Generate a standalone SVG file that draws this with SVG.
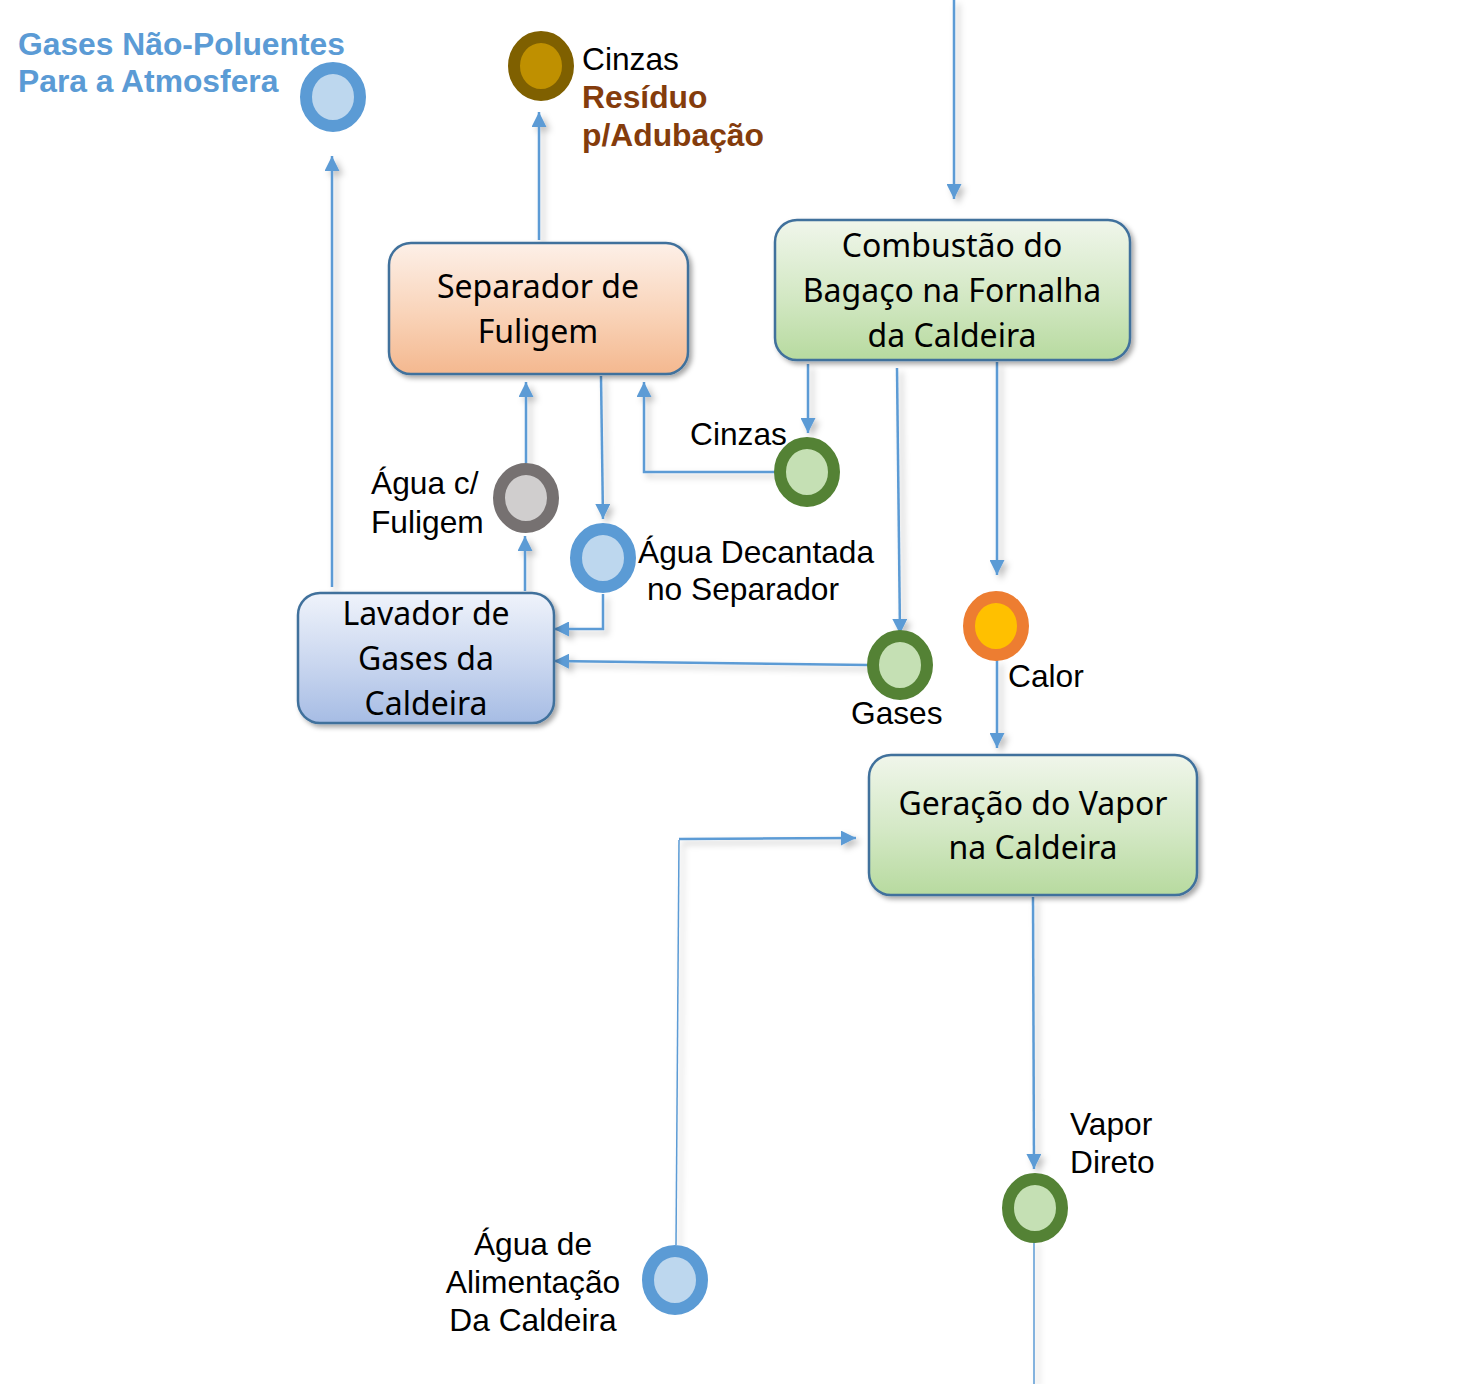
<svg xmlns="http://www.w3.org/2000/svg" width="1460" height="1384" viewBox="0 0 1460 1384">
<style>
.box{stroke:#41719c;stroke-width:2.5}
.bt{font-family:"Noto Sans","Open Sans",sans-serif;font-size:32px;fill:#000;text-anchor:middle}
.lb{font-family:"Liberation Sans",Arial,sans-serif;font-size:31.7px;fill:#000}
.c{stroke-width:12}
.ln{fill:none;stroke:#5b9bd5;stroke-width:2.5}
.thin{fill:none;stroke:#5b9bd5;stroke-width:1.5}
</style>
<defs>
<linearGradient id="gOr" x1="0" y1="0" x2="0" y2="1"><stop offset="0" stop-color="#fdf0e8"/><stop offset="0.55" stop-color="#f9d3b8"/><stop offset="1" stop-color="#f4b88f"/></linearGradient>
<linearGradient id="gGr" x1="0" y1="0" x2="0" y2="1"><stop offset="0" stop-color="#f0f6eb"/><stop offset="0.55" stop-color="#d3e8c4"/><stop offset="1" stop-color="#b7da9f"/></linearGradient>
<linearGradient id="gBl" x1="0" y1="0" x2="0" y2="1"><stop offset="0" stop-color="#eff3fb"/><stop offset="0.55" stop-color="#c9d6ef"/><stop offset="1" stop-color="#a6bce4"/></linearGradient>
<filter id="sh" x="-20%" y="-20%" width="140%" height="140%"><feDropShadow dx="3" dy="3" stdDeviation="2.5" flood-color="#000" flood-opacity="0.35"/></filter>
<filter id="lsh" x="-50%" y="-5%" width="200%" height="110%"><feDropShadow dx="4" dy="4" stdDeviation="3" flood-color="#000" flood-opacity="0.25"/></filter>
<marker id="ar" viewBox="0 0 15 15" refX="15" refY="7.5" markerWidth="15" markerHeight="15" markerUnits="userSpaceOnUse" orient="auto"><path d="M0,0 L15,7.5 L0,15 z" fill="#5b9bd5"/></marker>
</defs>
<rect width="1460" height="1384" fill="#fff"/>

<g id="connectors" filter="url(#lsh)">
<path class="ln" d="M954,0 V199" marker-end="url(#ar)"/>
<path class="ln" d="M332,587 V156" marker-end="url(#ar)"/>
<path class="ln" d="M539,240 V112" marker-end="url(#ar)"/>
<path class="ln" d="M525,591 V536" marker-end="url(#ar)"/>
<path class="ln" d="M526,463 V382" marker-end="url(#ar)"/>
<path class="ln" d="M601,376 L603,519" marker-end="url(#ar)"/>
<path class="ln" d="M603,594 V629 H554" marker-end="url(#ar)"/>
<path class="ln" d="M775,472 H644 V382" marker-end="url(#ar)"/>
<path class="ln" d="M808,364 V433" marker-end="url(#ar)"/>
<path class="ln" d="M897,368 L900,634" marker-end="url(#ar)"/>
<path class="ln" d="M997,362 V575" marker-end="url(#ar)"/>
<path class="ln" d="M868,665 L554,661" marker-end="url(#ar)"/>
<path class="ln" d="M997,660 V748" marker-end="url(#ar)"/>
<path class="ln" d="M1033,897 L1034,1169" marker-end="url(#ar)"/>
<path class="thin" d="M1034,1240 V1384"/>
<path class="thin" d="M676,1245 L679,840"/>
<path class="ln" d="M679,839 L856,838" marker-end="url(#ar)"/>
</g>

<g id="gases-atm">
<ellipse class="c" cx="333" cy="97" rx="27" ry="29" fill="#bdd7ee" stroke="#5b9bd5"/>
<text font-family="Liberation Sans,Arial,sans-serif" font-size="31.8" font-weight="bold" fill="#5b9bd5"><tspan x="18" y="55">Gases Não-Poluentes</tspan><tspan x="18" y="92">Para a Atmosfera</tspan></text>
</g>

<g id="cinzas-residuo">
<ellipse class="c" cx="541" cy="66" rx="27" ry="29" fill="#bf9000" stroke="#7f6000"/>
<text class="lb" x="582" y="70">Cinzas</text>
<text font-family="Liberation Sans,Arial,sans-serif" font-size="31.8" font-weight="bold" fill="#843c0c"><tspan x="582" y="108">Resíduo</tspan><tspan x="582" y="146">p/Adubação</tspan></text>
</g>

<g id="separador">
<rect class="box" x="389" y="243" width="299" height="131" rx="22" fill="url(#gOr)" filter="url(#sh)"/>
<text class="bt"><tspan x="538" y="298">Separador de</tspan><tspan x="538" y="343">Fuligem</tspan></text>
</g>

<g id="combustao">
<rect class="box" x="775" y="220" width="355" height="140" rx="22" fill="url(#gGr)" filter="url(#sh)"/>
<text class="bt"><tspan x="952" y="257">Combustão do</tspan><tspan x="952" y="302">Bagaço na Fornalha</tspan><tspan x="952" y="347">da Caldeira</tspan></text>
</g>

<g id="lavador">
<rect class="box" x="298" y="593" width="256" height="130" rx="22" fill="url(#gBl)" filter="url(#sh)"/>
<text class="bt"><tspan x="426" y="625">Lavador de</tspan><tspan x="426" y="670">Gases da</tspan><tspan x="426" y="715">Caldeira</tspan></text>
</g>

<g id="geracao">
<rect class="box" x="869" y="755" width="328" height="140" rx="22" fill="url(#gGr)" filter="url(#sh)"/>
<text class="bt"><tspan x="1033" y="815">Geração do Vapor</tspan><tspan x="1033" y="859">na Caldeira</tspan></text>
</g>

<g id="agua-fuligem">
<ellipse class="c" cx="526" cy="498" rx="27" ry="29" fill="#d0cece" stroke="#767171"/>
<text class="lb"><tspan x="371" y="494">Água c/</tspan><tspan x="371" y="533">Fuligem</tspan></text>
</g>

<g id="agua-decantada">
<ellipse class="c" cx="603" cy="558" rx="27" ry="29" fill="#bdd7ee" stroke="#5b9bd5"/>
<text class="lb"><tspan x="638" y="563">Água Decantada</tspan><tspan x="647" y="600">no Separador</tspan></text>
</g>

<g id="cinzas">
<ellipse class="c" cx="807" cy="472" rx="27" ry="29" fill="#c5e0b4" stroke="#548235"/>
<text class="lb" x="690" y="445">Cinzas</text>
</g>

<g id="gases">
<ellipse class="c" cx="900" cy="665" rx="27" ry="29" fill="#c5e0b4" stroke="#548235"/>
<text class="lb" x="851" y="724">Gases</text>
</g>

<g id="calor">
<ellipse class="c" cx="996" cy="626" rx="27" ry="29" fill="#ffc000" stroke="#ed7d31"/>
<text class="lb" x="1008" y="687">Calor</text>
</g>

<g id="vapor-direto">
<ellipse class="c" cx="1035" cy="1208" rx="27" ry="29" fill="#c5e0b4" stroke="#548235"/>
<text class="lb"><tspan x="1070" y="1135">Vapor</tspan><tspan x="1070" y="1173">Direto</tspan></text>
</g>

<g id="agua-alimentacao">
<ellipse class="c" cx="675" cy="1280" rx="27" ry="29" fill="#bdd7ee" stroke="#5b9bd5"/>
<text class="lb" text-anchor="middle"><tspan x="533" y="1255">Água de</tspan><tspan x="533" y="1293">Alimentação</tspan><tspan x="533" y="1331">Da Caldeira</tspan></text>
</g>
</svg>
